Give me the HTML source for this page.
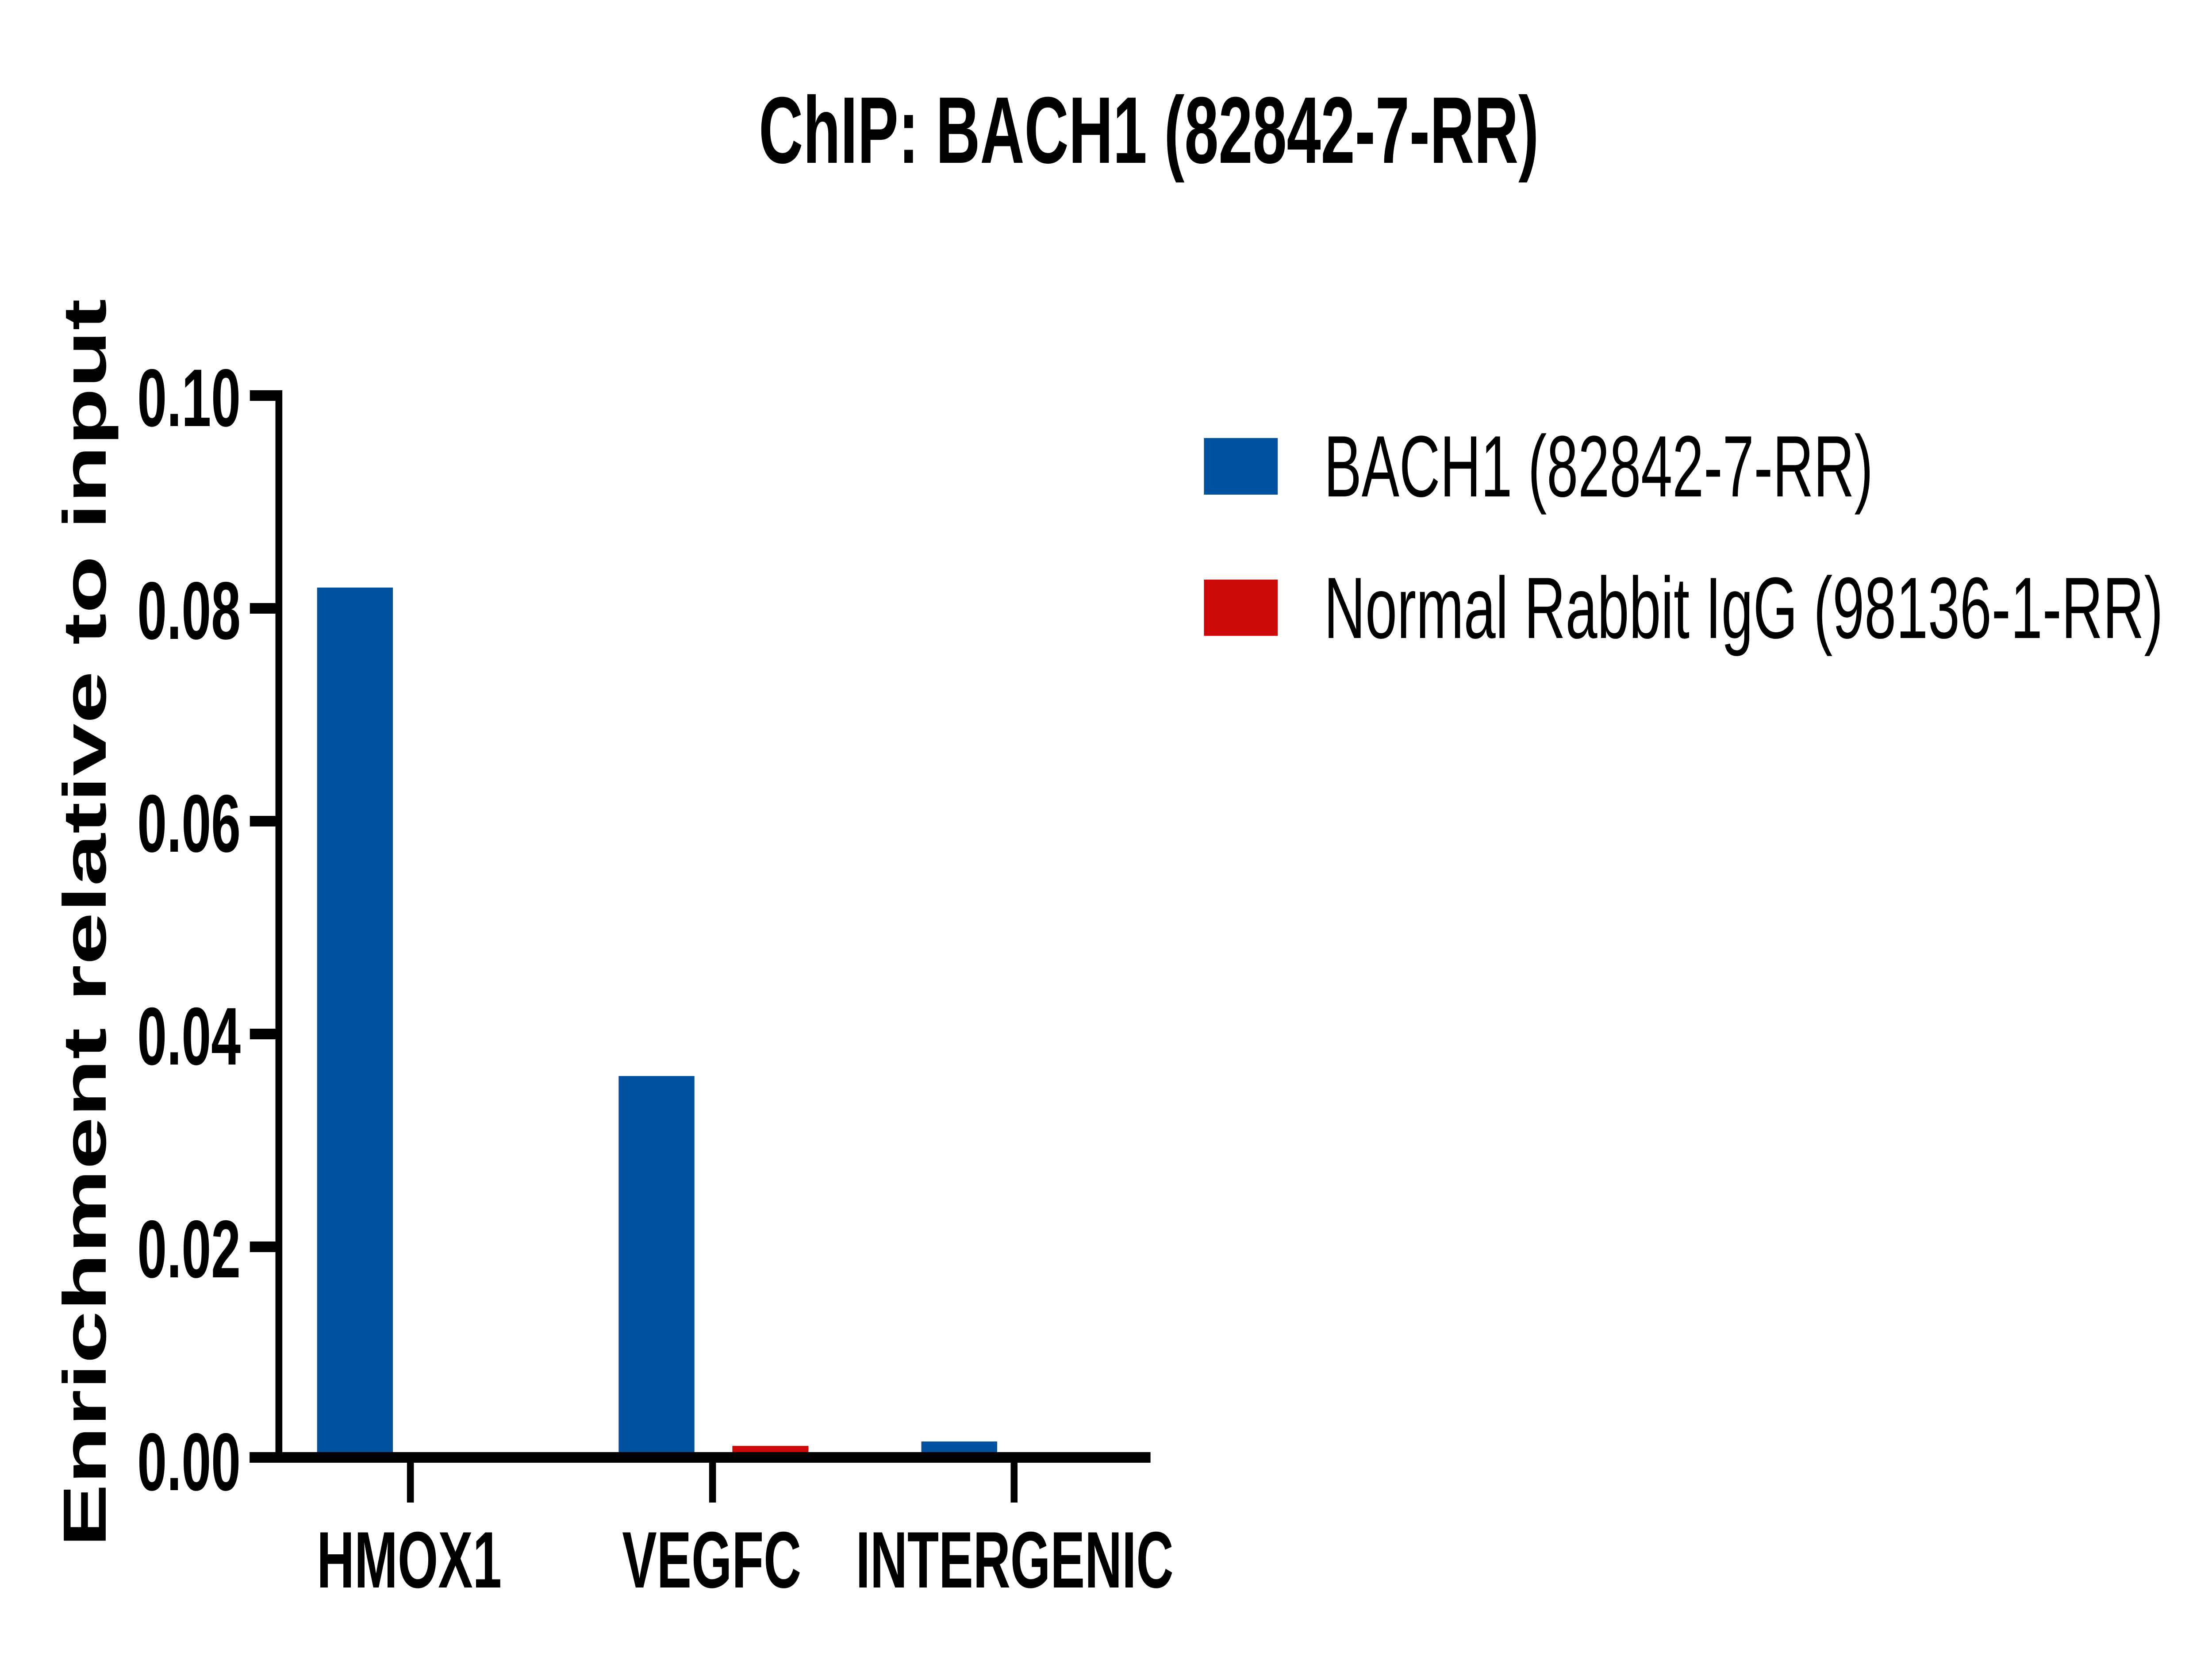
<!DOCTYPE html>
<html><head><meta charset="utf-8"><style>html,body{margin:0;padding:0;background:#fff;width:100%;height:100%;overflow:hidden}svg{display:block;width:100vw;height:100vh}</style></head>
<body>
<svg viewBox="0 0 7702 3779" preserveAspectRatio="none" xmlns="http://www.w3.org/2000/svg" font-family="Liberation Sans, Arial, sans-serif">
<rect width="7702" height="3779" fill="#fff"/>
<text x="4000" y="368" font-size="214" font-weight="bold" text-anchor="middle" textLength="2716" lengthAdjust="spacingAndGlyphs">ChIP: BACH1 (82842-7-RR)</text>
<text transform="translate(368,2086) rotate(-90)" font-size="212" font-weight="bold" text-anchor="middle" textLength="2821" lengthAdjust="spacingAndGlyphs">Enrichment relative to input</text>
<rect x="1104" y="1328" width="264" height="1956" fill="#00519f"/>
<rect x="2154" y="2432" width="264" height="852" fill="#00519f"/>
<rect x="2550" y="3268" width="265" height="16" fill="#cc0808"/>
<rect x="3208" y="3258" width="264" height="26" fill="#00519f"/>
<rect x="959" y="882" width="24" height="2424" fill="#000"/>
<rect x="869" y="3282" width="3137" height="24" fill="#000"/>
<g fill="#000">
<rect x="870" y="882" width="100" height="24"/>
<rect x="870" y="1363" width="100" height="24"/>
<rect x="870" y="1844" width="100" height="24"/>
<rect x="870" y="2325" width="100" height="24"/>
<rect x="870" y="2806" width="100" height="24"/>
<rect x="1417" y="3300" width="24" height="96"/>
<rect x="2469" y="3300" width="24" height="96"/>
<rect x="3519" y="3300" width="24" height="96"/>
</g>
<g font-size="185" font-weight="bold" text-anchor="end">
<text x="838" y="963">0.10</text>
<text x="838" y="1444">0.08</text>
<text x="838" y="1925">0.06</text>
<text x="838" y="2406">0.04</text>
<text x="838" y="2887">0.02</text>
<text x="838" y="3368">0.00</text>
</g>
<g font-size="181" font-weight="bold" text-anchor="middle">
<text x="1425" y="3588">HMOX1</text>
<text x="2478" y="3588">VEGFC</text>
<text x="3533" y="3588" textLength="1106" lengthAdjust="spacingAndGlyphs">INTERGENIC</text>
</g>
<rect x="4192" y="990" width="257" height="128" fill="#00519f"/>
<rect x="4192" y="1310" width="257" height="127" fill="#cc0808"/>
<g font-size="197">
<text x="4610" y="1122" textLength="1912" lengthAdjust="spacingAndGlyphs">BACH1 (82842-7-RR)</text>
<text x="4610" y="1442" textLength="2922" lengthAdjust="spacingAndGlyphs">Normal Rabbit IgG (98136-1-RR)</text>
</g>
</svg>
</body></html>
